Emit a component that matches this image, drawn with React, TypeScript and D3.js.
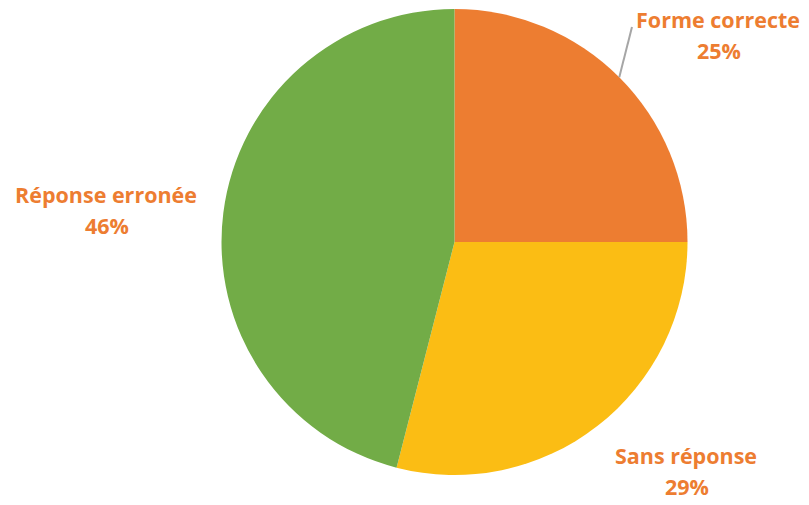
import * as d3 from "d3";

const labels = ["Forme correcte", "Sans réponse", "Réponse erronée"];
const values = [25, 29, 46];
const colors = ["#ED7D31", "#FBBD14", "#72AC47"];

// label positions (name line centre x, baseline y)
const labelPos = [
  { x: 718, y: 28 },
  { x: 686, y: 464 },
  { x: 106, y: 203 },
];

export default function App() {
  const width = 809;
  const height = 505;
  const cx = 454.5;
  const cy = 242;
  const r = 233;

  const pie = d3.pie<number>().sort(null).value((d) => d);
  const arcs = pie(values);
  const arc = d3.arc<d3.PieArcDatum<number>>().innerRadius(0).outerRadius(r);

  // leader line for first slice
  const a0 = (arcs[0].startAngle + arcs[0].endAngle) / 2;
  const lx1 = cx + r * Math.sin(a0);
  const ly1 = cy - r * Math.cos(a0);

  return (
    <svg
      width={width}
      height={height}
      style={{ position: "absolute", left: 0, top: 0 }}
    >
      <rect width={width} height={height} fill="#fff" />
      <g transform={`translate(${cx},${cy})`}>
        {arcs.map((a, i) => (
          <path key={i} d={arc(a) ?? ""} fill={colors[i]} />
        ))}
      </g>
      <line x1={lx1} y1={ly1} x2={632} y2={27} stroke="#A6A6A6" strokeWidth={2} />
      {labels.map((name, i) => (
        <text
          key={i}
          x={labelPos[i].x}
          y={labelPos[i].y}
          textAnchor="middle"
          fill="#ED7D31"
          fontFamily="'Open Sans', sans-serif"
          fontWeight="bold"
          fontSize={21.5}
        >
          <tspan x={labelPos[i].x}>{name}</tspan>
          <tspan x={labelPos[i].x + 1} dy={31}>{`${values[i]}%`}</tspan>
        </text>
      ))}
    </svg>
  );
}
